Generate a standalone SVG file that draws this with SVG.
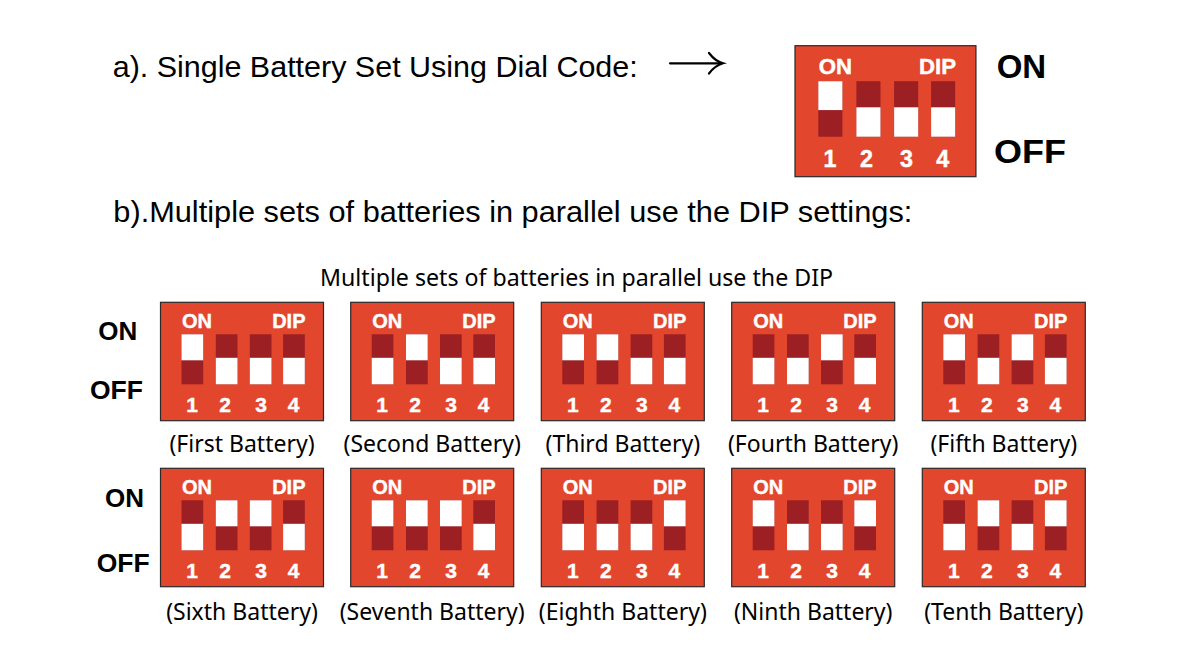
<svg xmlns="http://www.w3.org/2000/svg" xmlns:xlink="http://www.w3.org/1999/xlink" width="1193" height="659" viewBox="0 0 1193 659">
<style>
.bg{fill:#ffffff}
.box{fill:#E2472D;stroke:#2a2a2a;stroke-width:1.2}
.dk{fill:#9B1F23}
.wh{fill:#ffffff}
.in{font-family:"Liberation Sans",Arial,sans-serif;font-weight:bold;font-size:20px;fill:#ffffff;stroke:#ffffff;stroke-width:0.4}
.num{font-family:"Liberation Sans",Arial,sans-serif;font-weight:bold;font-size:21px;fill:#ffffff;stroke:#ffffff;stroke-width:0.4;text-anchor:middle}
.side{font-family:"Liberation Sans",Arial,sans-serif;font-weight:bold;font-size:26px;fill:#000000}
.head{font-family:"Liberation Sans",Arial,sans-serif;font-size:29px;fill:#000000}
.lbl{font-family:"Noto Sans","Open Sans",sans-serif;font-size:23px;fill:#000000;text-anchor:middle}
.arr{fill:none;stroke:#000000;stroke-width:2.2;stroke-linecap:round}
</style>
<defs>
<g id="swOn"><rect class="dk" width="21.7" height="50"/><rect class="wh" width="21.7" height="26"/></g>
<g id="swOff"><rect class="dk" width="21.7" height="50"/><rect class="wh" y="23.5" width="21.7" height="26.5"/></g>
</defs>
<rect class="bg" width="1193" height="659"/>

<text class="head" x="112.7" y="76.7" textLength="525" lengthAdjust="spacingAndGlyphs">a). Single Battery Set Using Dial Code:</text>
<g id="connectors">
<path class="arr" d="M670 63.3 H721"/>
<path class="arr" d="M709 53 Q715 61 723 63.3 Q715 65.6 709 73.5"/>
</g>

<g id="dip-single" transform="translate(795,45.7) scale(1.11)">
<rect class="box" width="163" height="118" style="stroke-width:1.1"/>
<text class="in" x="21.5" y="25.4">ON</text>
<text class="in" x="145" y="25.4" text-anchor="end">DIP</text>
<use xlink:href="#swOn" x="21" y="32"/><use xlink:href="#swOff" x="55.3" y="32"/><use xlink:href="#swOff" x="89.3" y="32"/><use xlink:href="#swOff" x="122.6" y="32"/>
<text class="num" x="31.5" y="109.4">1</text><text class="num" x="64.5" y="109.4">2</text><text class="num" x="100.5" y="109.4">3</text><text class="num" x="133" y="109.4">4</text>
</g>
<text class="side" x="996.7" y="78.3" style="font-size:33px">ON</text>
<text class="side" x="994" y="162.7" style="font-size:34px" textLength="72" lengthAdjust="spacingAndGlyphs">OFF</text>

<text class="head" x="113.3" y="221.7" style="font-size:30px" textLength="799" lengthAdjust="spacingAndGlyphs">b).Multiple sets of batteries in parallel use the DIP settings:</text>

<text class="lbl" x="320" y="285.7" style="text-anchor:start" textLength="513" lengthAdjust="spacingAndGlyphs">Multiple sets of batteries in parallel use the DIP</text>

<text class="side" x="98.3" y="340">ON</text>
<text class="side" x="90" y="399" textLength="53" lengthAdjust="spacingAndGlyphs">OFF</text>
<text class="side" x="105" y="506.7">ON</text>
<text class="side" x="96.7" y="571.5" textLength="53" lengthAdjust="spacingAndGlyphs">OFF</text>

<g id="dip-1" transform="translate(160.5,302.3)">
<rect class="box" width="163" height="118.4"/>
<text class="in" x="21.5" y="25.4">ON</text><text class="in" x="145" y="25.4" text-anchor="end">DIP</text>
<use xlink:href="#swOn" x="21" y="32"/><use xlink:href="#swOff" x="55.3" y="32"/><use xlink:href="#swOff" x="89.3" y="32"/><use xlink:href="#swOff" x="122.6" y="32"/>
<text class="num" x="31.5" y="109.4">1</text><text class="num" x="64.5" y="109.4">2</text><text class="num" x="100.5" y="109.4">3</text><text class="num" x="133" y="109.4">4</text>
<text class="lbl" x="81.5" y="149.4">(First Battery)</text>
</g>
<g id="dip-2" transform="translate(350.7,302.3)">
<rect class="box" width="163" height="118.4"/>
<text class="in" x="21.5" y="25.4">ON</text><text class="in" x="145" y="25.4" text-anchor="end">DIP</text>
<use xlink:href="#swOff" x="21" y="32"/><use xlink:href="#swOn" x="55.3" y="32"/><use xlink:href="#swOff" x="89.3" y="32"/><use xlink:href="#swOff" x="122.6" y="32"/>
<text class="num" x="31.5" y="109.4">1</text><text class="num" x="64.5" y="109.4">2</text><text class="num" x="100.5" y="109.4">3</text><text class="num" x="133" y="109.4">4</text>
<text class="lbl" x="81.5" y="149.4">(Second Battery)</text>
</g>
<g id="dip-3" transform="translate(541.3,302.3)">
<rect class="box" width="163" height="118.4"/>
<text class="in" x="21.5" y="25.4">ON</text><text class="in" x="145" y="25.4" text-anchor="end">DIP</text>
<use xlink:href="#swOn" x="21" y="32"/><use xlink:href="#swOn" x="55.3" y="32"/><use xlink:href="#swOff" x="89.3" y="32"/><use xlink:href="#swOff" x="122.6" y="32"/>
<text class="num" x="31.5" y="109.4">1</text><text class="num" x="64.5" y="109.4">2</text><text class="num" x="100.5" y="109.4">3</text><text class="num" x="133" y="109.4">4</text>
<text class="lbl" x="81.5" y="149.4">(Third Battery)</text>
</g>
<g id="dip-4" transform="translate(731.7,302.3)">
<rect class="box" width="163" height="118.4"/>
<text class="in" x="21.5" y="25.4">ON</text><text class="in" x="145" y="25.4" text-anchor="end">DIP</text>
<use xlink:href="#swOff" x="21" y="32"/><use xlink:href="#swOff" x="55.3" y="32"/><use xlink:href="#swOn" x="89.3" y="32"/><use xlink:href="#swOff" x="122.6" y="32"/>
<text class="num" x="31.5" y="109.4">1</text><text class="num" x="64.5" y="109.4">2</text><text class="num" x="100.5" y="109.4">3</text><text class="num" x="133" y="109.4">4</text>
<text class="lbl" x="81.5" y="149.4">(Fourth Battery)</text>
</g>
<g id="dip-5" transform="translate(922.3,302.3)">
<rect class="box" width="163" height="118.4"/>
<text class="in" x="21.5" y="25.4">ON</text><text class="in" x="145" y="25.4" text-anchor="end">DIP</text>
<use xlink:href="#swOn" x="21" y="32"/><use xlink:href="#swOff" x="55.3" y="32"/><use xlink:href="#swOn" x="89.3" y="32"/><use xlink:href="#swOff" x="122.6" y="32"/>
<text class="num" x="31.5" y="109.4">1</text><text class="num" x="64.5" y="109.4">2</text><text class="num" x="100.5" y="109.4">3</text><text class="num" x="133" y="109.4">4</text>
<text class="lbl" x="81.5" y="149.4">(Fifth Battery)</text>
</g>

<g id="dip-6" transform="translate(160.5,468.3)">
<rect class="box" width="163" height="118.4"/>
<text class="in" x="21.5" y="25.4">ON</text><text class="in" x="145" y="25.4" text-anchor="end">DIP</text>
<use xlink:href="#swOff" x="21" y="32"/><use xlink:href="#swOn" x="55.3" y="32"/><use xlink:href="#swOn" x="89.3" y="32"/><use xlink:href="#swOff" x="122.6" y="32"/>
<text class="num" x="31.5" y="109.4">1</text><text class="num" x="64.5" y="109.4">2</text><text class="num" x="100.5" y="109.4">3</text><text class="num" x="133" y="109.4">4</text>
<text class="lbl" x="81.5" y="152">(Sixth Battery)</text>
</g>
<g id="dip-7" transform="translate(350.7,468.3)">
<rect class="box" width="163" height="118.4"/>
<text class="in" x="21.5" y="25.4">ON</text><text class="in" x="145" y="25.4" text-anchor="end">DIP</text>
<use xlink:href="#swOn" x="21" y="32"/><use xlink:href="#swOn" x="55.3" y="32"/><use xlink:href="#swOn" x="89.3" y="32"/><use xlink:href="#swOff" x="122.6" y="32"/>
<text class="num" x="31.5" y="109.4">1</text><text class="num" x="64.5" y="109.4">2</text><text class="num" x="100.5" y="109.4">3</text><text class="num" x="133" y="109.4">4</text>
<text class="lbl" x="81.5" y="152">(Seventh Battery)</text>
</g>
<g id="dip-8" transform="translate(541.3,468.3)">
<rect class="box" width="163" height="118.4"/>
<text class="in" x="21.5" y="25.4">ON</text><text class="in" x="145" y="25.4" text-anchor="end">DIP</text>
<use xlink:href="#swOff" x="21" y="32"/><use xlink:href="#swOff" x="55.3" y="32"/><use xlink:href="#swOff" x="89.3" y="32"/><use xlink:href="#swOn" x="122.6" y="32"/>
<text class="num" x="31.5" y="109.4">1</text><text class="num" x="64.5" y="109.4">2</text><text class="num" x="100.5" y="109.4">3</text><text class="num" x="133" y="109.4">4</text>
<text class="lbl" x="81.5" y="152">(Eighth Battery)</text>
</g>
<g id="dip-9" transform="translate(731.7,468.3)">
<rect class="box" width="163" height="118.4"/>
<text class="in" x="21.5" y="25.4">ON</text><text class="in" x="145" y="25.4" text-anchor="end">DIP</text>
<use xlink:href="#swOn" x="21" y="32"/><use xlink:href="#swOff" x="55.3" y="32"/><use xlink:href="#swOff" x="89.3" y="32"/><use xlink:href="#swOn" x="122.6" y="32"/>
<text class="num" x="31.5" y="109.4">1</text><text class="num" x="64.5" y="109.4">2</text><text class="num" x="100.5" y="109.4">3</text><text class="num" x="133" y="109.4">4</text>
<text class="lbl" x="81.5" y="152">(Ninth Battery)</text>
</g>
<g id="dip-10" transform="translate(922.3,468.3)">
<rect class="box" width="163" height="118.4"/>
<text class="in" x="21.5" y="25.4">ON</text><text class="in" x="145" y="25.4" text-anchor="end">DIP</text>
<use xlink:href="#swOff" x="21" y="32"/><use xlink:href="#swOn" x="55.3" y="32"/><use xlink:href="#swOff" x="89.3" y="32"/><use xlink:href="#swOn" x="122.6" y="32"/>
<text class="num" x="31.5" y="109.4">1</text><text class="num" x="64.5" y="109.4">2</text><text class="num" x="100.5" y="109.4">3</text><text class="num" x="133" y="109.4">4</text>
<text class="lbl" x="81.5" y="152">(Tenth Battery)</text>
</g>
</svg>
